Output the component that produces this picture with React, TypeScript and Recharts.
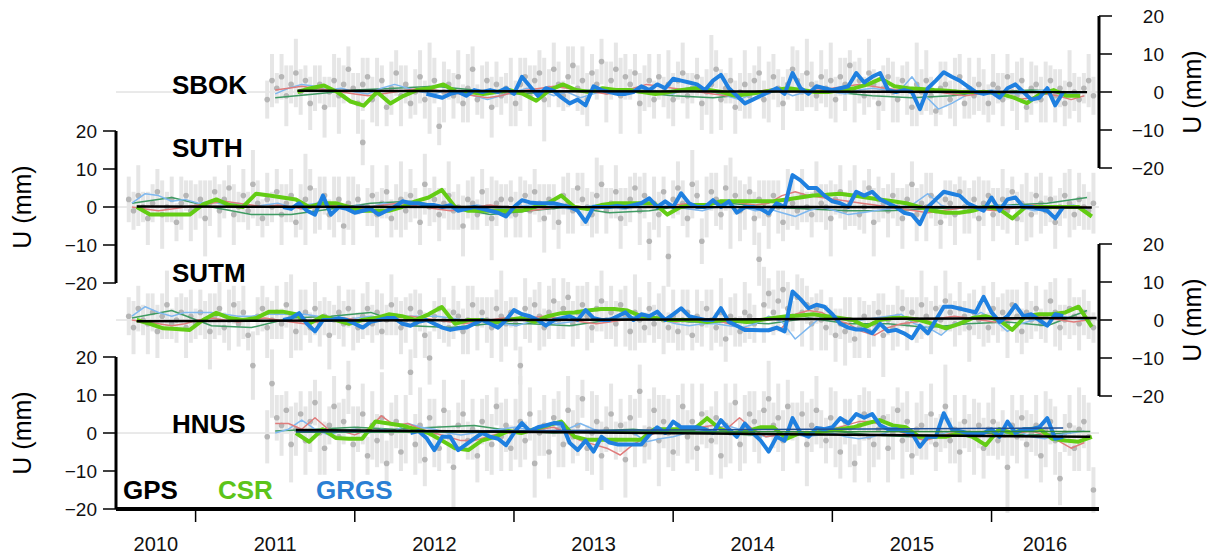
import React from "react";
import { ComposedChart, Line, Scatter, ErrorBar, XAxis, YAxis, ReferenceLine } from "recharts";

const W = 1213;
const H = 555;
const PLOT_LEFT = 116;
const PLOT_RIGHT = 1099;
const PLOT_H = 152;
const FONT = '"Liberation Sans", Arial, Helvetica, sans-serif';

const GPS_STEP = 0.03;
const MONTH = 1 / 12;
const TENDAY = 0.05;
const QUARTER = 0.25;

const xDomain = [2010.5, 2016.675];
const yearTicks = [2011, 2012, 2013, 2014, 2015, 2016];
const yearLabelAt = [2010.75, 2011.5, 2012.5, 2013.5, 2014.5, 2015.5, 2016.335];
const yearLabels = ["2010", "2011", "2012", "2013", "2014", "2015", "2016"];
const uTicks = [-20, -10, 0, 10, 20];

// ---------- SBOK ----------
const sbokGps = [
  -2, 3, 1, 4, -1, 2, 5, 0, 3, -3, 1, 2, -4, 0, 3, -1, 2, 6,
  1, -3, 2, 4, -2, 0, 3, -4, 1, 5, -1, 2, -3, 0, 4, -2, 1, 3, -9, 0, 2, -1, 4, -3, 1, 6, -2, 0, 3, -4, 2, -1, 1,
  0, -3, 2, 4, -1, 3, 5, -2, 1, 6, 2, -1, 4, 7, 1, 3, -2, 5, 2, 8, 0, 3, 6, -1, 4, 2, 5, -3, 1, 3, -2, 4, 0,
  2, -2, 3, 5, -1, 1, 4, -3, 0, 2, 6, -2, 1, 3, -4, 0, 2, -1, 3, 5, -2, 0, 4, 1, -3, 2, 6, 3, 0, 5, 2, -1, 4,
  1, 3, -2, 4, 2, 7, 0, 3, -1, 5, 2, -3, 1, 4, 0, -2, 3, 1, -4, 2, 0, 3, -1, -5, 1, 2, -2, 0, 4, -3, 1, -1, 2,
  0, -3, 2, 1, -2, 4, 0, -1, 3, -4, 1, 2, -2, 0, 3, -1, 1, -3, 2, 0, -2, 1, 3, -1,
];
const sbokErr = [
  5, 7, 4, 6, 8, 5, 9, 6, 4, 7, 6, 5, 8, 4, 7, 10, 5, 6, 4, 8, 7, 5, 6, 9, 4, 5, 7, 6, 8, 5,
  4, 6, 7, 5, 12, 6, 5, 8, 4, 6, 7, 5, 9, 6, 4, 7, 5, 8, 6, 5, 4, 9, 6, 7, 5, 8, 4, 6, 11, 5,
  7, 6, 4, 8, 5, 6, 9, 7, 5, 4, 6, 8, 5, 7, 10, 6, 4, 5, 8, 6, 7, 5, 6, 4, 9, 7, 5, 8, 6, 4,
  5, 7, 6, 13, 5, 8, 4, 6, 7, 5, 9, 6, 4, 7, 5, 8, 6, 5, 7, 4, 6, 8, 5, 9, 6, 4, 7, 5, 10, 6,
  5, 7, 4, 8, 6, 5, 9, 4, 7, 6, 5, 8, 6, 4, 7, 5, 11, 6, 8, 5, 4, 7, 6, 5, 9, 6, 4, 8, 5, 7,
  6, 5, 8, 4, 7, 6, 5, 9, 6, 4, 7, 5, 6, 8, 4, 7, 5, 6, 9, 5, 6, 4, 7, 5,
];
const sbokRed = [
  0.5, 1, 1.5, 1, 0.5, 0, -0.5, -1, -0.5, 0, 0.5, 1, 0.5, 0, -0.5, -1, -1.5, -1, 0, 0.5,
  1, 1.5, 1, 0.5, 0, -0.5, 0, 1, 2, 1.5, 1, 0.5, 0, -0.5, -1, -0.5, 0, 0.5, 1, 0.5,
  0, 0.5, 1, 1.5, 2, 1.5, 1, 0.5, 0, 0.5, 0, -0.5, -1, -0.5, 0, -1, -2, -1.5, -0.5, -1, -2, -1,
];
const sbokLightBlue = [
  -0.5, 1, 2, 1.5, 0.5, 1, 0, -0.5, 1, 2, 1, 0, -0.5, 0.5, 0, -1, -2, -1, 0, 1,
  0.5, -1, 0, -1.5, -0.5, 0.5, 0, 0.5, 1, 0, -0.5, 1, 1.5, 0, -1, -2, -0.5, 0, 0.5, -1,
  0, 1, 0, -0.5, 0.5, 1, 0.5, 0, 4, -1, -4.5, -3, -1, 0, 0.5, 0, -0.5, 0, 0.5, 0, -0.5, 0,
];
const sbokTeal = [-1.5, -0.5, 0.5, 1, 1.5, 0.5, -0.5, 0, 0.5, 0, -1, -1.5, -0.5, 0.5, 0, -1, -1.5, -1, 0, 0.5, 0];
const sbokCsr = [
  0, 1, 1.7, 0, -2.5, -3.6, 0, -3, -1, 0.5, 1, 2, 0, 0, -0.5, 0, 0.5, -0.5, -2.3, 0.5,
  2, 0.5, 0, 1, 0.5, 0.5, 0, -0.5, 0, 0.5, 1, 0.5, 0, -1, -0.5, 0, 0.5, 1, 0.5, 0,
  0, 0.5, 1, 2, 3.5, 1.5, 1, 0.8, 0.5, 0.3, 0, 0, 0, -0.5, -1.5, -2.9, -0.5, 0.5, -1, -1,
];
const sbokGrgs = [
  -0.5, -1, -1.5, -0.5, 0, -1, 0.5, 0, 0.5, 0, 1, -0.5, 4, 1.5, -1, 1, 0.3, -1.5, -3, -2,
  -3.5, 1.5, 0.5, 0, -0.5, -0.5, 0, 1.5, 0.5, 2, 1, 3.5, 3, 2.5, 2, 0.5, 3, 4.5, 1, -1,
  -3, -2, -1, 0, 1, -0.5, 5, 1, -0.5, 1.5, 1, 0.5, 1, 1.5, 5, 2.5, 4, 5, 0.5, 0,
  0.5, 0, -4.5, 1, 3, 5.2, 4, 3, 1.5, 0, -0.5, 0, -1.5, 1, 2, 0, -2, -1.5, 1, -3.5, 0,
];
const sbokTrend = [[2011.64, 0.3], [2016.6, 0]];

// ---------- SUTH ----------
const suthGps = [
  2, -1, 3, 0, -3, 1, 4, -2, 0, 2, -4, 1, 3, -1,
  0, 2, -3, 1, 4, -1, 2, 5, -2, 0, 3, -1, 6, 1, -3, 2, 0, 4, -2, 1, 3, -4, 0, 2, 5, -1, 1, 3, -2, 0, 2, -5, 1,
  -1, 2, 17, 0, 3, -2, 1, 4, -3, 0, 2, -1, 3, 1, -4, 6, 0, 2, -2, 1, 3, -1, 0, -5, 2, 1, -2, 4, 0, -3, 1, 2, -1,
  2, -2, 0, 3, -1, 4, 1, -3, 2, 0, -4, 3, 1, -1, 5, 2, 0, -2, 3, 6, -1, 1, 4, -3, 0, 2, 5, -1, 3, -9, 1, -2, 4,
  -13, 2, 5, 1, -3, 6, 3, -9, 0, 4, 2, -2, 5, 1, 3, -1, 0, 4, -3, 2, 1, -2, 3, 0, -4, 2, 1, -1, 3, 0, -2, 4, 1,
  0, -3, 2, 4, -1, 1, 3, -2, 0, 5, -4, 2, 1, -1, 3, 0, -3, 2, 6, -2, 1, 0, 3, -1, -4, 2, 1, -2, 4, 0, -1, 2, -3,
  1, 3, -2, 0, 2, -1, 4, -3, 1, 0, -2, 3, 1, -1, 2, -4, 0, 3, 1, -2, 2, 0, -1, 1,
];
const suthErr = [
  6, 5, 8, 4, 7, 5, 6, 9, 4, 6, 5, 7, 4, 8, 6, 5, 10, 6, 4, 7, 5, 6, 8, 4, 7, 5, 9, 6, 5, 7,
  4, 6, 8, 5, 7, 4, 6, 12, 5, 6, 7, 5, 4, 8, 6, 5, 7, 9, 4, 6, 5, 8, 6, 4, 7, 5, 6, 10, 5, 7,
  4, 6, 8, 5, 6, 7, 4, 9, 5, 6, 8, 5, 7, 4, 6, 5, 11, 6, 4, 7, 5, 6, 8, 4, 7, 6, 5, 9, 4, 6,
  7, 5, 8, 6, 4, 7, 5, 6, 10, 5, 6, 4, 7, 8, 5, 6, 4, 9, 6, 5, 7, 6, 4, 8, 5, 7, 6, 5, 9, 4,
  6, 8, 5, 7, 4, 6, 12, 5, 8, 6, 4, 7, 5, 6, 9, 4, 7, 5, 8, 6, 5, 7, 4, 6, 8, 5, 6, 10, 4, 7,
  5, 6, 8, 4, 7, 5, 9, 6, 4, 7, 6, 5, 8, 4, 6, 7, 5, 9, 6, 4, 7, 5, 6, 8, 4, 7, 6, 5, 11, 6,
  4, 7, 5, 8, 6, 4, 7, 5, 9, 6, 5, 8, 4, 6, 7, 5, 6, 9, 4, 7, 6, 5, 8,
];
const suthRed = [
  0, -0.5, -1, -0.5, 0, 0.5, 1, 1.5, 1, 0.5, 0, 0.5, 0, -0.5, 0, 0.5, 0, -0.5, 0, 0.5,
  1, 0.5, 0, -0.5, -1, -0.5, 0, 0.5, 0, -0.5, -1, -0.5, 0, 0.5, 0, -0.5, 0, 0.5, 1, 0.5,
  0, 0.5, 1, 0.5, 1, 1.5, 1, 0.5, 1, 3, 4, 3, 2.5, 2, 1.5, 1, 0.5, 0, -0.5, -1,
  -1.5, -1, -0.5, 0, -0.5, -1, -0.5, 0, 0.5, 0, -0.5, 0, 0,
];
const suthLightBlue = [
  1, 3.5, 3, 1.5, 2, 1, 1.5, 0.5, 1, 0, 0.5, 1, 0, 0.5, 1, 0, -0.5, 0.5, 0, 1,
  0.5, 1.5, 1, 0, -0.5, 0, 0.5, 0, -0.5, 0, 0.5, 1, 0, -0.5, 0, 0.5, 0, -0.5, 0, 0.5,
  0.5, 0, -0.5, -1, 0, 0.5, 0, -1, -0.5, -1.5, -2.5, -1, 0, -1, -2, -1.5, -1, -0.5, 0, 1,
  3.5, 0.5, -0.5, 0, -1, 0, 0.5, 0, -1, -0.5, 0, 0.5, -0.5,
];
const suthTeal = [1, 2.5, 0, -2, -2, -0.5, 1, 1.5, 0, -2, -1, 0, -1.5, -1, 0.5, 1, 0, -0.5, -1, -1, -0.5, 0, 0.5, 1, 2.5];
const suthCsr = [
  0, -2, -2, -2, -2, 0.7, 2, 0.5, 0, 3.5, 3, 2.5, 2, 0, 1, 1, 0, -1, -1, -1,
  0, 1.5, 2.5, 4.5, 0, -1, -1, -1, -1, -1, 0, 1, 3, 0, -0.5, 0.5, 1, 1, 1, 1,
  -2, 0, 0.5, 0.5, 1.5, 1.5, 1.5, 1.5, 1.5, 2, 2.5, 3, 3.2, 3.5, 3, 2.5, 2, 1.5, 1, 0,
  -1, -1.5, -1.5, -1, 0, -0.5, -3, 0, 0, 0, 0, 0, -2.5,
];
const suthGrgs = [
  0, -0.5, 1, -1, -2, 3, -2, 0, -0.5, -1.5, -1, -0.5, -2, -1, 0, 1.5, 1, 1, 0.5, 0.5,
  0, 0.5, -1, -0.5, 0, -0.5, -1, -1.5, -2.5, 0, 1.8, 1.2, 1, 1, 1, 0.5, 0, -1, -3.9, 0,
  0, 0, 0.3, 0, 0.5, 1, 2.3, 0, 1.5, 0, 3.6, 1, 0, 0, 1.8, 0, 1.5, -1.5, 0, 0,
  -0.5, -1.7, 1, 0, 8.4, 7, 5, 5, 3, 1.5, 1, 0, 4, 3, 4, 2, 1, 0, -1.5, -2,
  -4.5, 0, 2, 4, 3.5, 3, 1, 0, -1, 2.5, -1, 2, 2.5, 0, 0, -0.5, -1, -3, 0,
];
const suthTrend = [[2010.63, 0.1], [2016.63, -0.1]];

// ---------- SUTM ----------
const sutmGps = [
  1, -2, 3, 0, -1, 2, -3, 1, 4, -1, 0, 2, -2, 1,
  -1, 2, 0, -3, 1, 3, -2, 0, 4, -1, 2, -4, -12, 1, 3, -2, 0, 2, -1, 4, 1, -3, 0, 2, -2, 3, -1, 1, -4, 0, 2, -1, 3,
  0, -2, 1, 3, -1, 2, -3, 0, 4, 1, -2, 0, 3, -1, 2, -4, -10, 1, 3, 0, -2, 2, 1, -3, 0, 4, -1, 2, 0, -2, 3, 1, -1,
  2, -1, -12, 3, 0, 4, 1, -2, 2, 5, 0, 3, 6, -1, 2, 4, 1, -2, 3, 5, 0, 2, -1, 4, 1, -3, 2, 0, -2, 3, -1, 1, 0,
  -2, 1, -3, 0, 2, -4, 1, -1, 3, 0, -2, 2, -5, 1, 0, -3, 2, 1, -1, 16, 4, 7, 2, 5, 8, 3, 1, 6, 2, 4, -1, 3, 0,
  -2, 1, -4, -1, -3, 0, -5, -2, 1, -3, -1, 2, -4, 0, -2, 1, 3, -1, 2, 0, 4, 1, -2, 3, 0, 5, 2, -1, 3, 1, -2, 2, 0,
  1, -2, 3, 0, 2, -1, 4, 1, -3, 2, 0, 3, -1, 1, 5, 2, -2, 0, 3, 1, -1, 2, 0, -2,
];
const sutmErr = [
  5, 7, 6, 4, 8, 5, 7, 6, 9, 4, 6, 5, 8, 7, 4, 6, 5, 10, 6, 7, 4, 8, 5, 6, 7, 4, 9, 5, 6, 8,
  5, 7, 4, 6, 11, 5, 8, 6, 4, 7, 6, 5, 9, 4, 7, 6, 5, 8, 4, 6, 7, 5, 6, 10, 4, 8, 5, 7, 6, 4,
  9, 5, 6, 7, 4, 8, 6, 5, 7, 4, 6, 9, 5, 7, 4, 6, 8, 5, 12, 6, 4, 7, 5, 8, 6, 4, 9, 5, 7, 6,
  5, 8, 4, 6, 7, 5, 9, 4, 6, 8, 5, 7, 6, 4, 8, 5, 10, 6, 4, 7, 5, 6, 9, 4, 7, 5, 8, 6, 4, 7,
  6, 5, 8, 4, 9, 6, 5, 7, 4, 8, 6, 5, 7, 10, 4, 6, 8, 5, 7, 4, 6, 9, 5, 7, 4, 8, 6, 5, 7, 4,
  9, 6, 5, 8, 4, 7, 6, 5, 11, 4, 6, 8, 5, 7, 4, 6, 9, 5, 7, 6, 4, 8, 5, 6, 7, 4, 9, 6, 5, 8,
  4, 7, 6, 5, 9, 4, 7, 6, 8, 5, 6, 4, 7, 5, 9, 6, 4, 8, 5, 7, 6, 5, 4,
];
const sutmRed = [
  0, -0.5, -1, -1.5, -1, 0, 0.5, 0, -0.5, 0, 0.5, 0, -0.5, -1, -0.5, 0, 0.5, 0, -0.5, 0,
  0.5, 1, 0.5, 0, -0.5, -1, -0.5, 0, 0.5, 0.5, 0.5, 1, 0.5, 0, -0.5, -1, -0.5, 0, 0.5, 0.5,
  0, -0.5, 0, -0.5, 0, -1, -2, -2.5, -3, -2, 1.5, 2.5, 2, 0, -1, -3, -4, -2, -1, -0.5,
  0, 0.5, 1, 0.5, 0, -0.5, 0, 0.5, 1, 0.5, 0, -0.5, 0,
];
const sutmLightBlue = [
  1, 3.5, 2, 1, 2, 2, 2, 1.5, 1, 1, 1.5, 1.5, 1.5, 1.5, 1, 0.5, 0, 0.5, 1, 0.5,
  1, 1, 1, 1, 0.5, 0, 0, 0, -1, -1.5, -0.5, 0, -1, -0.5, 0, 0, 0.5, 0.5, 1, 0,
  0, -1, -1.5, -1, -1, -1.5, -2, -1, 1, -0.5, -5, -2, 1, 0.5, 0, 0, 0.5, 1, 1.5, -1,
  -2, -4, -1, 0, 2, 0, -3, -1, 0, 0.5, 1, 0.5, 0,
];
const sutmTeal = [0.5, 2.5, -1.5, -2, 0.5, 1, 2, -1.5, -2, -1, -1, -1.5, 0, 1, -0.5, -0.5, -1, 0.5, -1, -1, -2, -1, -0.5, -1.5, 2.5];
const sutmCsr = [
  0, -1, -2.2, -2.4, -2.6, 0, 1.9, 0.5, 0, 0.5, 2.2, 2.2, 1.5, -1, 1, 0, -1, 0, 0.5, 1.5,
  1, 0, 1.5, 3.4, -1, 0, 0, -0.5, 0, 0.5, -0.5, 1, 1.8, 2, 2.5, 2.9, 2.9, 2.5, 1, 0.5,
  0, 0, 0, -0.5, 0, 0, -0.5, 0, 0.5, 1, 1.2, 1.5, 1, 0.5, 0, -1.8, 0, 0.5, 0.5, 0,
  -1, -2.2, -1, 0.5, 1, 0, -2.6, 1, 1.5, 1.5, 2, 3.5, -1.8,
];
const sutmGrgs = [
  0, 0.5, 1.8, -1, -3, 0, 0, 0.5, 0, -1, -2, -0.5, 0, 0.5, 0.5, -1, -1.5, -0.5, 0, -1,
  -2, -2.6, -2.2, -2, -1, 0, -1, -2, 0, 2.6, 1.5, 1, 0, -1.5, 0, 0.5, 1, 0, 2.6, 0.5,
  0, 0, 1, 2, 0, 1.5, 1, 2.2, 0, 1.5, 3.1, 1, 0.5, 0, 0, 3.1, -0.5, -1.5, -2.6, -2.6,
  -2.7, -2.7, -2, -3, 7.5, 5.5, 3.1, 4, 3.5, 1.5, -1, -2, -2.5, -2.5, -3.5, -1, -3, -2.6, -3.5, -4.8,
  -1.5, -3.5, 0, 3.5, 3.5, 3, 2.5, 2, 6.1, 2, -0.5, 1, 3.9, 1, 1.5, 0, -1.5, 1.5, 1,
];
const sutmTrend = [[2010.63, -0.3], [2016.66, 0.5]];

// ---------- HNUS ----------
const hnusGps = [
  -1, 13, 4, 2, 6, -3, 1, 5, -2, 3, 8, 0, -4, 2, 7, -1, 3, 12,
  -3, 1, 5, -6, 2, -2, 4, -8, 0, 3, -5, 1, 16, -3, 2, -7, 4, 0, -4, 6, -1, -9, 2, 5, -2, 1, -6, 3, 0, -3, 7, -1, 2,
  -4, 1, 3, -2, 5, -8, 0, 2, -5, 4, 1, -3, 6, -1, 2, 9, -4, 0, 3, -6, 1, 5, -2, 2, -7, 4, 0, 11, -3, 1, 6, -2, 3,
  0, -5, 2, 7, -1, 3, -4, 5, 1, -2, 4, -6, 2, 0, 8, -3, 1, 5, 3, -1, 6, 9, 2, 4, -2, 7, 3, 0, 5, -3, 2, 6, 1,
  -2, 4, 1, -5, 3, 0, -8, 2, 5, -1, -3, 1, 4, -4, 0, 6, -2, 3, -6, 1, 2, -1, 5, -3, 0, 7, -2, 1, -5, 3, 0, -1, 2,
  -4, 1, 3, -2, 0, -9, 2, -1, 4, -3, 0, 2, -6, 1, 3, -2, -12, 0, 2, -4, 1, 3, -1, -15,
];
const hnusErr = [
  7, 9, 6, 8, 5, 10, 7, 6, 9, 8, 6, 11, 7, 5, 8, 9, 6, 7, 10, 6, 8, 5, 9, 7, 12, 6, 8, 7, 5, 9,
  6, 8, 10, 7, 5, 9, 6, 8, 7, 11, 6, 9, 5, 8, 7, 6, 10, 8, 5, 9, 7, 6, 8, 12, 5, 7, 9, 6, 8, 7,
  5, 10, 6, 9, 7, 8, 5, 6, 11, 7, 9, 6, 8, 5, 7, 10, 6, 9, 7, 5, 8, 6, 12, 7, 9, 5, 8, 6, 7, 10,
  6, 8, 5, 9, 7, 6, 11, 8, 5, 7, 9, 6, 8, 7, 5, 10, 6, 9, 8, 7, 5, 8, 6, 11, 7, 9, 5, 6, 8, 10,
  7, 6, 9, 5, 8, 7, 12, 6, 8, 5, 9, 7, 6, 10, 8, 5, 7, 9, 6, 8, 7, 5, 11, 6, 9, 8, 7, 5, 10, 6,
  8, 7, 9, 5, 6, 12, 8, 7, 6, 9, 5, 8, 7, 10, 6, 9, 7, 5, 8, 6, 11, 7, 9, 6,
];
const hnusRed = [
  2.5, 2.5, 1, 4, 1, 0.5, -0.5, 1, 4.5, 2, 2.5, 1, 0, -1, -2, -2, -1, 0, 0, 0.5,
  1, 1.5, 0, -2, -3, -4, -5.8, -3, -1, 0.5, 1, 1, 1.5, 2, 1, 4, 1, -1, -0.5, 0,
  0, 0.5, 1, 2, 3, 3, 1.5, 0.5, -1, -2, -1, 0, -0.5, -1, -0.5, -1, 0, 0.5, -0.5, -2, -4, -2.5,
];
const hnusLightBlue = [
  0, 1, 3.4, 1, -0.5, 0.5, 1, 0, 1, 0.5, 2.5, 1.5, 1, 0, -0.5, 0, 0.5, 1, 1.5, 1,
  0.5, 2.5, 1, 2.5, 1, 0, 0.5, 0, -2.3, -1.5, -1, 0, 0.5, 1, 2, 1, 0, -1, -0.5, 0,
  -1, -0.5, 0, -1, -1.5, -1, 0, 1.5, -1, -2, -0.5, 0.5, 0, -0.5, -1, 0, 0.5, -1, -1.5, -0.5, 0, 0.5,
];
const hnusTeal = [0.5, 1, 1.5, 1, 1.5, 2, 0.5, 0, 0.5, 1, 0, 0, -0.5, 0, 0.5, -0.5, -1, -0.5, 0, -0.5, 0];
const hnusCsr = [
  0, -2.3, 1, -1.3, -1.5, -1.5, 3, 2.5, 2, 1, 0, -2, -4, -4.5, -2, -1, 0.5, 0, 1, 2,
  3, -1, -1.8, -1.8, -1.8, -1.8, -1.8, 1, 1, 1, 1, 3.9, 1, 0, 0.5, 1.5, 1.5, -1.5, 0, 0,
  0.5, 1, 1.5, 2.5, 3.4, 2, 1.5, -1, -1, -1, 0, -1, -3.2, 1, 0, 1, 1.2, -1.5, -2, -2.3, -1,
];
const hnusGrgs = [
  0, 0.5, -1.3, -4.5, -1, -1, -4.5, -3, -1.5, 0, -1, -1.5, -3.2, 0, 2.6, 0.5, 1.5, 2, 2.6, 2.5,
  -2.6, -4.5, -2, -4.9, -1, -2.5, -3, -3, -3, -3, -0.5, 1.5, 0, 3, 1.5, 1.5, 1.5, 1, 0, 3.4,
  1, -1, 2.5, 0, -2, -4.9, -1, -2, 3.9, 0, -1, 1.3, 1, 1.5, 3.9, 2.5, 5, 4, 5, 2,
  1, 1, 0.5, 0, -3.6, -1, -1, 5.2, 1, 0.5, 0, 0, 0, 1, -1, 3, 0, 1, 1, 1.5, 3.9, -1.5, -1,
];
const hnusTrend = [[2011.63, 0.8], [2016.62, -1]];
const hnusGrgsTrend = [[2011.63, 0.3], [2016.45, 1.3]];
const hnusCsrTrend = [[2011.63, 0.2], [2016.62, 0.4]];

const C = {
  gps: "#b6b6b6",
  err: "#e6e6e6",
  zero: "#d4d4d4",
  red: "#e07c7c",
  lightBlue: "#7fb8ef",
  teal: "#3f9b63",
  csr: "#63cc14",
  grgs: "#1f80e0",
  trend: "#000000",
  grgsTrend: "#1d4f96",
  csrTrend: "#2e8a3c",
  csrText: "#5cc41a",
  grgsText: "#2a7fd4",
};

type Pt = { t: number; v: number; e?: number };

const toSeries = (t0: number, step: number, vals: number[]): Pt[] =>
  vals.map((v, i) => ({ t: t0 + i * step, v }));
const toGps = (t0: number, vals: number[], errs: number[]): Pt[] =>
  vals.map((v, i) => ({ t: t0 + i * GPS_STEP, v, e: errs[i] ?? 5 }));
const toTrend = (pairs: number[][]): Pt[] => pairs.map(([t, v]) => ({ t, v }));

const stations: any[] = [
  {
    name: "SBOK", top: 16, side: "right", nameY: 94,
    gps: toGps(2011.45, sbokGps, sbokErr),
    red: toSeries(2011.5, MONTH, sbokRed),
    lightBlue: toSeries(2011.5, MONTH, sbokLightBlue),
    teal: toSeries(2011.5, QUARTER, sbokTeal),
    csr: toSeries(2011.64, MONTH, sbokCsr),
    grgs: toSeries(2012.45, TENDAY, sbokGrgs),
    trend: toTrend(sbokTrend),
  },
  {
    name: "SUTH", top: 131, side: "left", nameY: 157,
    gps: toGps(2010.58, suthGps, suthErr),
    red: toSeries(2010.6, MONTH, suthRed),
    lightBlue: toSeries(2010.6, MONTH, suthLightBlue),
    teal: toSeries(2010.6, QUARTER, suthTeal),
    csr: toSeries(2010.63, MONTH, suthCsr),
    grgs: toSeries(2011.55, TENDAY, suthGrgs),
    trend: toTrend(suthTrend),
  },
  {
    name: "SUTM", top: 244, side: "right", nameY: 282,
    gps: toGps(2010.58, sutmGps, sutmErr),
    red: toSeries(2010.6, MONTH, sutmRed),
    lightBlue: toSeries(2010.6, MONTH, sutmLightBlue),
    teal: toSeries(2010.6, QUARTER, sutmTeal),
    csr: toSeries(2010.63, MONTH, sutmCsr),
    grgs: toSeries(2011.55, TENDAY, sutmGrgs),
    trend: toTrend(sutmTrend),
  },
  {
    name: "HNUS", top: 357, side: "left", nameY: 433,
    gps: toGps(2011.45, hnusGps, hnusErr),
    red: toSeries(2011.5, MONTH, hnusRed),
    lightBlue: toSeries(2011.5, MONTH, hnusLightBlue),
    teal: toSeries(2011.5, QUARTER, hnusTeal),
    csr: toSeries(2011.63, MONTH, hnusCsr),
    grgs: toSeries(2012.35, TENDAY, hnusGrgs),
    trend: toTrend(hnusTrend),
    grgsTrend: toTrend(hnusGrgsTrend),
    csrTrend: toTrend(hnusCsrTrend),
    bottom: true,
  },
];

const fmtU = (v: number) => (v < 0 ? `\u2212${Math.abs(v)}` : `${v}`);
const allXTicks = [...yearTicks, ...yearLabelAt].sort((a, b) => a - b);
const X_AXIS_H = 46;

const gpsDot = (p: any) => <circle cx={p.cx} cy={p.cy} r={2.8} fill={C.gps} />;

// year boundaries get a tick mark, mid-year positions get the label
const xTick = (p: any) => {
  const v = p.payload.value;
  const i = yearLabelAt.indexOf(v);
  if (i >= 0) {
    return (
      <text x={p.x} y={p.y + 42} textAnchor="middle" fontSize={20} fill="#111" fontFamily={FONT}>
        {yearLabels[i]}
      </text>
    );
  }
  return <line x1={p.x} x2={p.x} y1={p.y + 2} y2={p.y + 13} stroke="#000" strokeWidth={1.5} />;
};

const wrap: React.CSSProperties = { position: "absolute", left: 0, top: 0 };

// axes, zero line and GPS cloud
function GpsPanel({ s }: { s: any }) {
  const left = s.side === "left";
  const xH = s.bottom ? X_AXIS_H : 0;
  const margin = {
    top: s.top,
    bottom: H - s.top - PLOT_H - xH,
    left: left ? 0 : PLOT_LEFT,
    right: left ? W - PLOT_RIGHT : 0,
  };
  const yTick = (p: any) => (
    <text
      x={left ? p.x : p.x + 46}
      y={p.y}
      dy="0.36em"
      textAnchor="end"
      fontSize={19}
      fill="#111"
      fontFamily={FONT}
    >
      {fmtU(p.payload.value)}
    </text>
  );
  return (
    <div style={wrap}>
      <ComposedChart width={W} height={H} margin={margin}>
        {s.bottom ? (
          <XAxis
            xAxisId="x"
            type="number"
            dataKey="t"
            domain={xDomain}
            allowDataOverflow
            ticks={allXTicks}
            interval={0}
            height={xH}
            tickSize={0}
            tickMargin={0}
            tickLine={false}
            tick={xTick}
            axisLine={{ stroke: "#000", strokeWidth: 4 }}
          />
        ) : (
          <XAxis xAxisId="x" type="number" dataKey="t" domain={xDomain} allowDataOverflow hide />
        )}
        <YAxis
          type="number"
          dataKey="v"
          orientation={left ? "left" : "right"}
          width={left ? PLOT_LEFT : W - PLOT_RIGHT}
          domain={[-20, 20]}
          ticks={uTicks}
          allowDataOverflow
          tickSize={13}
          tickMargin={6}
          axisLine={{ stroke: "#000", strokeWidth: 3 }}
          tickLine={{ stroke: "#000", strokeWidth: 1.5 }}
          tick={yTick}
        />
        <ReferenceLine xAxisId="x" y={0} stroke={C.zero} strokeWidth={1} />
        <Scatter xAxisId="x" data={s.gps} dataKey="v" shape={gpsDot} isAnimationActive={false}>
          <ErrorBar dataKey="e" direction="y" width={0} stroke={C.err} strokeWidth={4} />
        </Scatter>
      </ComposedChart>
    </div>
  );
}

// model and trend lines, drawn above every GPS cloud
function LinePanel({ s }: { s: any }) {
  const margin = {
    top: s.top,
    bottom: H - s.top - PLOT_H,
    left: PLOT_LEFT,
    right: W - PLOT_RIGHT,
  };
  const line = (data: Pt[], color: string, width: number, key: string) => (
    <Line
      key={key}
      data={data}
      dataKey="v"
      stroke={color}
      strokeWidth={width}
      dot={false}
      activeDot={false}
      strokeLinejoin="round"
      isAnimationActive={false}
    />
  );
  return (
    <div style={wrap}>
      <ComposedChart width={W} height={H} margin={margin}>
        <XAxis type="number" dataKey="t" domain={xDomain} allowDataOverflow hide />
        <YAxis type="number" dataKey="v" domain={[-20, 20]} allowDataOverflow hide />
        {line(s.teal, C.teal, 1.5, "teal")}
        {line(s.lightBlue, C.lightBlue, 1.5, "lb")}
        {line(s.red, C.red, 1.5, "red")}
        {line(s.csr, C.csr, 4, "csr")}
        {line(s.grgs, C.grgs, 4, "grgs")}
        {s.csrTrend && line(s.csrTrend, C.csrTrend, 1.5, "csrT")}
        {s.grgsTrend && line(s.grgsTrend, C.grgsTrend, 1.5, "grgsT")}
        {line(s.trend, C.trend, 2.5, "trend")}
      </ComposedChart>
    </div>
  );
}

export default function App() {
  return (
    <div style={{ position: "absolute", left: 0, top: 0, width: W, height: H, background: "#fff", fontFamily: FONT }}>
      {stations.map((s) => (
        <GpsPanel key={s.name + "g"} s={s} />
      ))}
      {stations.map((s) => (
        <LinePanel key={s.name + "l"} s={s} />
      ))}
      <svg width={W} height={H} style={{ position: "absolute", left: 0, top: 0, pointerEvents: "none" }} fontFamily={FONT}>
        {stations.map((s) => (
          <text key={s.name} x={172} y={s.nameY} fontSize={26} fontWeight="bold" fill="#000">
            {s.name}
          </text>
        ))}
        {stations.map((s) => {
          const cx = s.side === "left" ? 31 : 1201;
          const cy = s.top + PLOT_H / 2;
          return (
            <text
              key={s.name + "u"}
              transform={`translate(${cx},${cy}) rotate(-90)`}
              textAnchor="middle"
              fontSize={25}
              fill="#000"
            >
              U (mm)
            </text>
          );
        })}
        <text x={123} y={499} fontSize={26} fontWeight="bold" fill="#000">GPS</text>
        <text x={218} y={499} fontSize={26} fontWeight="bold" fill={C.csrText}>CSR</text>
        <text x={316} y={499} fontSize={26} fontWeight="bold" fill={C.grgsText}>GRGS</text>
      </svg>
    </div>
  );
}
